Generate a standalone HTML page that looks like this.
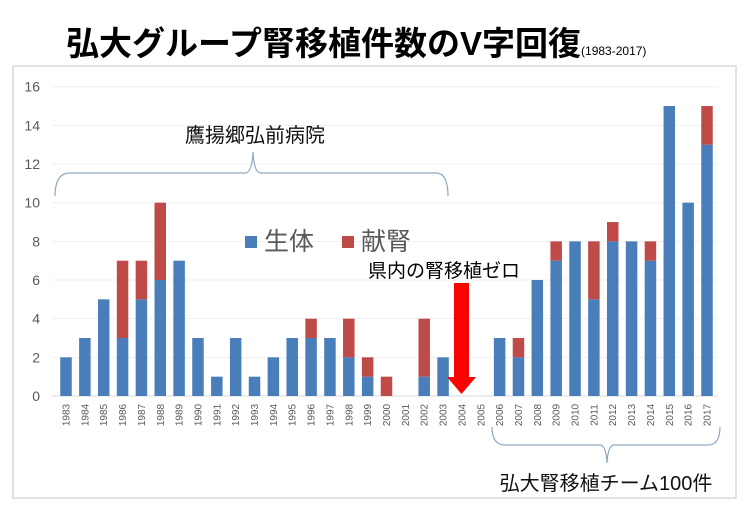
<!DOCTYPE html>
<html><head><meta charset="utf-8"><style>
body{margin:0;background:#fff;}
svg text{font-family:"Liberation Sans","Noto Sans CJK JP",sans-serif;}
</style></head><body>
<svg width="750" height="500" viewBox="0 0 750 500">
<rect x="13" y="66" width="723" height="432" fill="#fff" stroke="#d9d9d9" stroke-width="1.5"/>
<text x="66" y="55" font-size="33" font-weight="bold" fill="#000">弘大グループ腎移植件数のV字回復<tspan font-size="12" font-weight="normal">(1983-2017)</tspan></text>
<g id="grid"></g>
<g id="yaxis"></g>
<g id="bars"></g>
<g id="xaxis"></g>
<path d="M55,196 Q55,173 70,173 L245,173 Q252,173 253,152 Q254,173 261,173 L436,173 Q448,173 448,196" fill="none" stroke="#8ea9c1" stroke-width="1.2"/>
<text x="255" y="142" font-size="20" text-anchor="middle" fill="#111">鷹揚郷弘前病院</text>
<path d="M492,427 Q492,445 505,445 L600,445 Q606,445 607,463 Q608,445 614,445 L708,445 Q720,445 720,427" fill="none" stroke="#8ea9c1" stroke-width="1.2"/>
<text x="606" y="490" font-size="20" text-anchor="middle" fill="#111">弘大腎移植チーム100件</text>
<rect x="245" y="236" width="12" height="12" fill="#4a7ebb"/>
<text x="264" y="250" font-size="25" fill="#595959">生体</text>
<rect x="342" y="236" width="12" height="12" fill="#be4b48"/>
<text x="361" y="250" font-size="25" fill="#595959">献腎</text>
<text x="368" y="277" font-size="19" fill="#000">県内の腎移植ゼロ</text>
<path d="M454,283 L469,283 L469,377 L476,377 L461.5,394 L447,377 L454,377 Z" fill="#ff0000"/>
</svg>
<script>
const years=["1983","1984","1985","1986","1987","1988","1989","1990","1991","1992","1993","1994","1995","1996","1997","1998","1999","2000","2001","2002","2003","2004","2005","2006","2007","2008","2009","2010","2011","2012","2013","2014","2015","2016","2017"];
const living=[2,3,5,3,5,6,7,3,1,3,1,2,3,3,3,2,1,0,0,1,2,0,0,3,2,6,7,8,5,8,8,7,15,10,13];
const deceased=[0,0,0,4,2,4,0,0,0,0,0,0,0,1,0,2,1,1,0,3,0,0,0,0,1,0,1,0,3,1,0,1,0,0,2];
const yTicks=[0,2,4,6,8,10,12,14,16];
const NS="http://www.w3.org/2000/svg";
const y0=396,y1=86.7,yMax=16;
const yS=v=>y0-(v/yMax)*(y0-y1);
const xS=i=>66+i*(707-66)/(years.length-1);
const bw=11.5;
function mk(t,a,p){const e=document.createElementNS(NS,t);for(const k in a)e.setAttribute(k,a[k]);document.getElementById(p).appendChild(e);return e;}
yTicks.forEach(v=>{
 const l=mk('line',{x1:52,x2:718,y1:yS(v),y2:yS(v),stroke:v===0?'#d9d9d9':'#efefef','stroke-width':1},'grid');
 
 
 const t=mk('text',{x:40,y:yS(v)+5,'font-size':14,'text-anchor':'end',fill:'#595959'},'yaxis');
 t.textContent=v;
 
 
});
years.forEach((yr,i)=>{
 const x=xS(i)-bw/2;
 if(living[i]>0){
  const r=mk('rect',{x:x,y:yS(living[i]),width:bw,height:y0-yS(living[i]),fill:'#4a7ebb'},'bars');
  
  
 }
 if(deceased[i]>0){
  const top=yS(living[i]+deceased[i]);
  const r=mk('rect',{x:x,y:top,width:bw,height:yS(living[i])-top,fill:'#be4b48'},'bars');
  
  
 }
 const t=mk('text',{x:0,y:0,'font-size':10,'text-anchor':'middle',fill:'#595959',transform:'translate('+(xS(i)+3.5)+',415) rotate(-90)'},'xaxis');
 t.textContent=yr;
 
 
});
</script>
</body></html>
